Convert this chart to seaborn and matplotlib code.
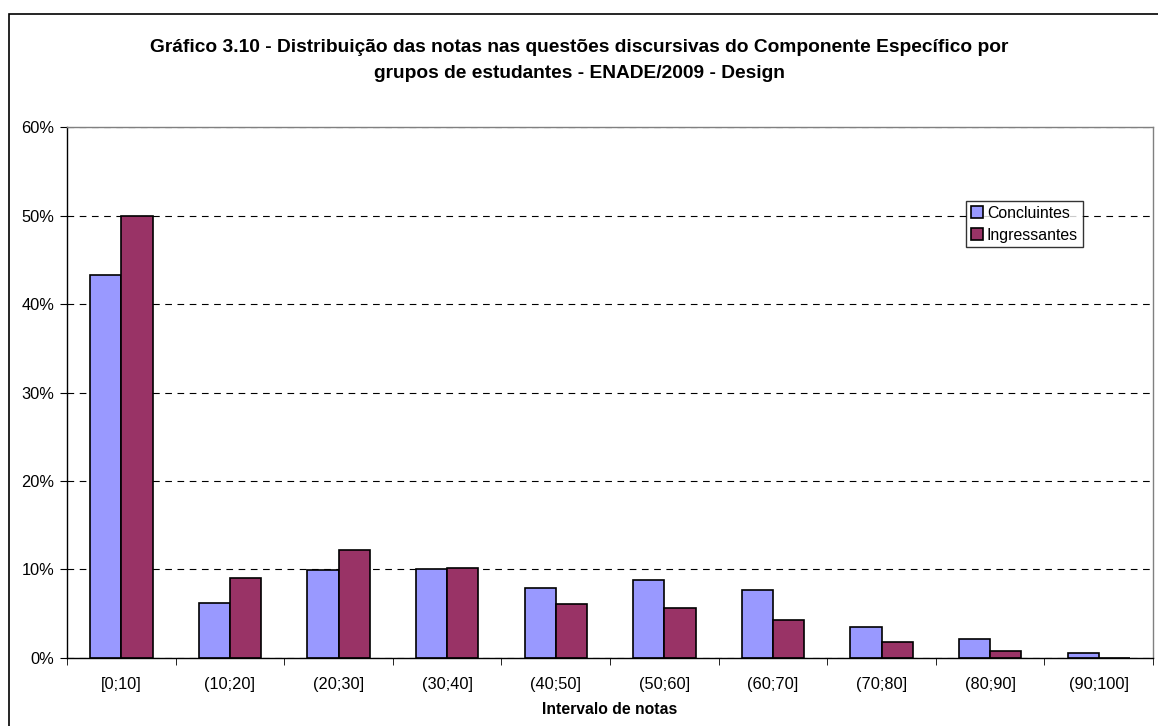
import pandas as pd
import seaborn as sns
import matplotlib.pyplot as plt
from matplotlib.patches import Rectangle
from matplotlib.ticker import PercentFormatter, FixedLocator

# Datos
intervalos = ["[0;10]", "(10;20]", "(20;30]", "(30;40]", "(40;50]",
              "(50;60]", "(60;70]", "(70;80]", "(80;90]", "(90;100]"]
concluintes = [43.3, 6.2, 9.9, 10.1, 7.9, 8.8, 7.7, 3.5, 2.1, 0.6]
ingressantes = [49.9, 9.0, 12.2, 10.2, 6.1, 5.7, 4.3, 1.8, 0.8, 0.05]

df = pd.DataFrame({"Intervalo": intervalos * 2,
                   "Valor": concluintes + ingressantes,
                   "Grupo": ["Concluintes"] * 10 + ["Ingressantes"] * 10})

sns.set_style("white")
plt.rcParams['font.family'] = ['Liberation Sans', 'DejaVu Sans']
plt.rcParams.update({"text.color": "black", "axes.labelcolor": "black",
                     "xtick.color": "black", "ytick.color": "black"})

fig = plt.figure(figsize=(11.58, 7.26), dpi=100)
ax = fig.add_axes([0.0579, 0.0937, 0.9378, 0.7313])

sns.barplot(data=df, x="Intervalo", y="Valor", hue="Grupo", ax=ax,
            palette=["#9999FF", "#993366"], width=0.575, gap=0,
            edgecolor="black", linewidth=1.2, saturation=1)

ax.set_ylim(0, 60)
ax.set_xlim(-0.5, 9.5)
ax.yaxis.set_major_formatter(PercentFormatter(decimals=0))
ax.set_yticks(range(0, 61, 10))
ax.grid(axis="y", color="black", linestyle=(0, (6, 5)), linewidth=0.8)
ax.set_axisbelow(True)

# ticks do eixo x nos limites das categorias
ax.xaxis.set_major_locator(FixedLocator(range(10)))
ax.tick_params(axis="x", length=0, labelsize=11.8, pad=14, labelcolor="black")
ax.set_xticks([i - 0.5 for i in range(11)], minor=True)
ax.tick_params(axis="x", which="minor", length=5, color="black", direction="out", bottom=True)
ax.tick_params(axis="y", length=5, color="black", direction="out", left=True,
               labelsize=11.8, pad=4, labelcolor="black")

for s in ["left", "bottom"]:
    ax.spines[s].set_color("black")
    ax.spines[s].set_linewidth(1)
for s in ["top", "right"]:
    ax.spines[s].set_color("#808080")
    ax.spines[s].set_linewidth(1)

ax.set_ylabel("")
ax.set_xlabel("Intervalo de notas", fontsize=11.3, fontweight="bold", labelpad=7, color="black")

fig.suptitle("Gráfico 3.10 - Distribuição das notas nas questões discursivas do Componente Específico por\n"
             "grupos de estudantes - ENADE/2009 - Design",
             fontsize=13.8, fontweight="bold", y=0.946, linespacing=1.7, color="black")

leg = ax.legend(loc="upper left", bbox_to_anchor=(0.828, 0.861), frameon=True,
                fancybox=False, edgecolor="black", fontsize=11.4,
                handlelength=0.75, handleheight=0.75, handletextpad=0.25,
                borderpad=0.3, labelspacing=0.45, borderaxespad=0)
leg.get_frame().set_linewidth(1)
for t in leg.get_texts():
    t.set_color("black")

# moldura da figura
fig.patches.append(Rectangle((9 / 1158, -0.01), 1.02, 1 - 14 / 726 + 0.01,
                             transform=fig.transFigure, fill=False,
                             edgecolor="black", linewidth=1.2))

fig.savefig("out.png", dpi=100)
